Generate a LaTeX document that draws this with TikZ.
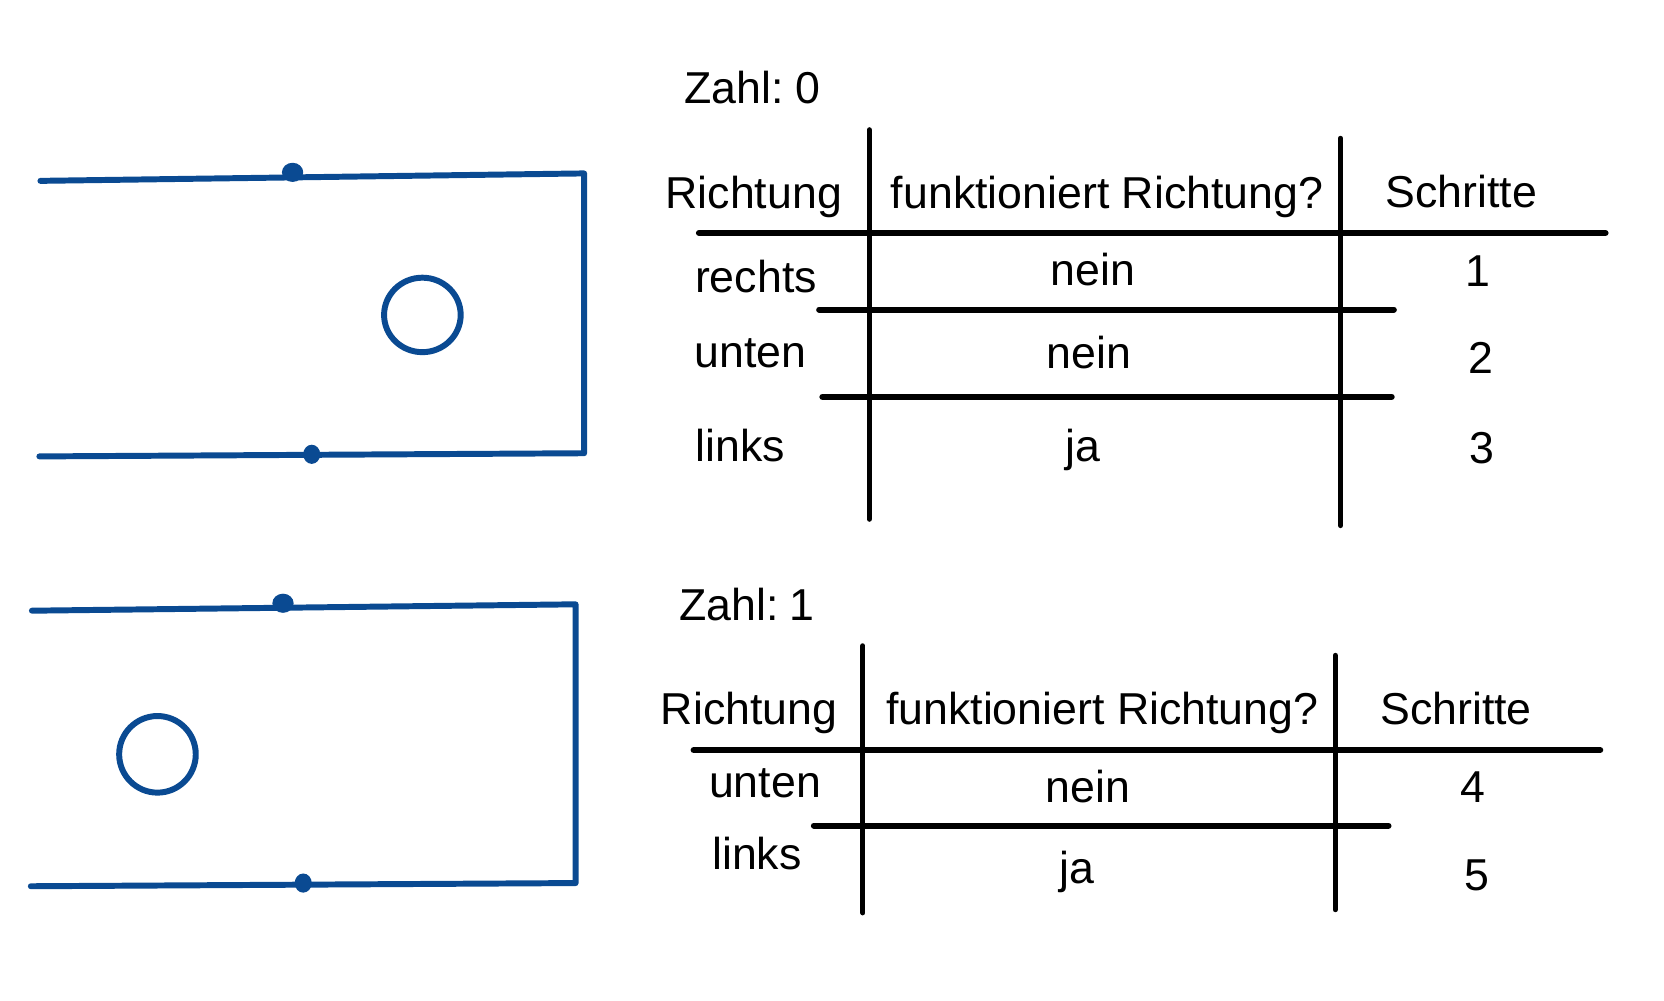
\documentclass[tikz,border=0pt]{standalone}
\usepackage{fontspec}
\setmainfont{Liberation Sans}
\definecolor{pen}{RGB}{10,74,146}
\begin{document}
\begin{tikzpicture}[x=0.5pt,y=-0.5pt,
  txt/.style={inner sep=0pt,anchor=base,font=\fontsize{21pt}{25pt}\selectfont},
  ink/.style={draw=pen,line width=2.8pt,line cap=round,line join=round},
  rule/.style={draw=black,line width=2.9pt,line cap=round},
  vrule/.style={draw=black,line width=2.4pt,line cap=round},
  blob/.style={fill=pen}]
\useasboundingbox (0,0) rectangle (1564,940);
\fill[white] (0,0) rectangle (1564,940);

% ---------- upper sketch ----------
\draw[ink] (38,170) -- (549,163) -- (549,426) -- (37,429);
\fill[blob] (275,162) ellipse [x radius=10, y radius=9];
\fill[blob] (293,427) ellipse [x radius=8, y radius=9];
\draw[ink] (397,296) ellipse [x radius=36, y radius=35];

% ---------- lower sketch ----------
\draw[ink] (30,574) -- (541,568) -- (541,830) -- (29,833);
\fill[blob] (266,567) ellipse [x radius=10, y radius=9];
\fill[blob] (285,830) ellipse [x radius=8, y radius=9];
\draw[ink] (148,709) ellipse [x radius=36, y radius=36];

% ---------- table 1 ----------
\node[txt,anchor=base west] (z0) at (643,97) {Zahl:\kern-2.5pt{} 0};
\draw[vrule] (817,122) -- (817,488);
\draw[vrule] (1260,130) -- (1260,494);
\draw[rule] (657,219) -- (1509,219);
\draw[rule] (770,291) -- (1310,291);
\draw[rule] (773,373) -- (1308,373);
\node[txt] (h1a) at (708.5,196) {Richtung};
\node[txt] (h1b) at (1040.5,196) {funktioniert Richtung?};
\node[txt] (h1c) at (1373.5,195) {Schritte};
\node[txt] (r1a) at (710.5,275) {rechts};
\node[txt] (r1b) at (1027,268) {nein};
\node[txt] (r1c) at (1389,269) {1};
\node[txt] (r2a) at (705.5,345) {unten};
\node[txt] (r2b) at (1023.5,346) {nein};
\node[txt] (r2c) at (1392,351) {2};
\node[txt] (r3a) at (696,434) {links};
\node[txt] (r3b) at (1018,434) {ja};
\node[txt] (r3c) at (1393,436) {3};

% ---------- table 2 ----------
\node[txt,anchor=base west] (z1) at (638,583) {Zahl:\kern-2.5pt{} 1};
\draw[vrule] (811,607) -- (811,858);
\draw[vrule] (1255,616) -- (1255,855);
\draw[rule] (652,705) -- (1504,705);
\draw[rule] (765,776) -- (1305,776);
\node[txt] (h2a) at (704,681) {Richtung};
\node[txt] (h2b) at (1036,681) {funktioniert Richtung?};
\node[txt] (h2c) at (1368.5,681) {Schritte};
\node[txt] (s1a) at (719,750) {unten};
\node[txt] (s1b) at (1022.5,754) {nein};
\node[txt] (s1c) at (1384,754) {4};
\node[txt] (s2a) at (711.5,817) {links};
\node[txt] (s2b) at (1012,830) {ja};
\node[txt] (s2c) at (1388,837) {5};
\end{tikzpicture}
\end{document}
